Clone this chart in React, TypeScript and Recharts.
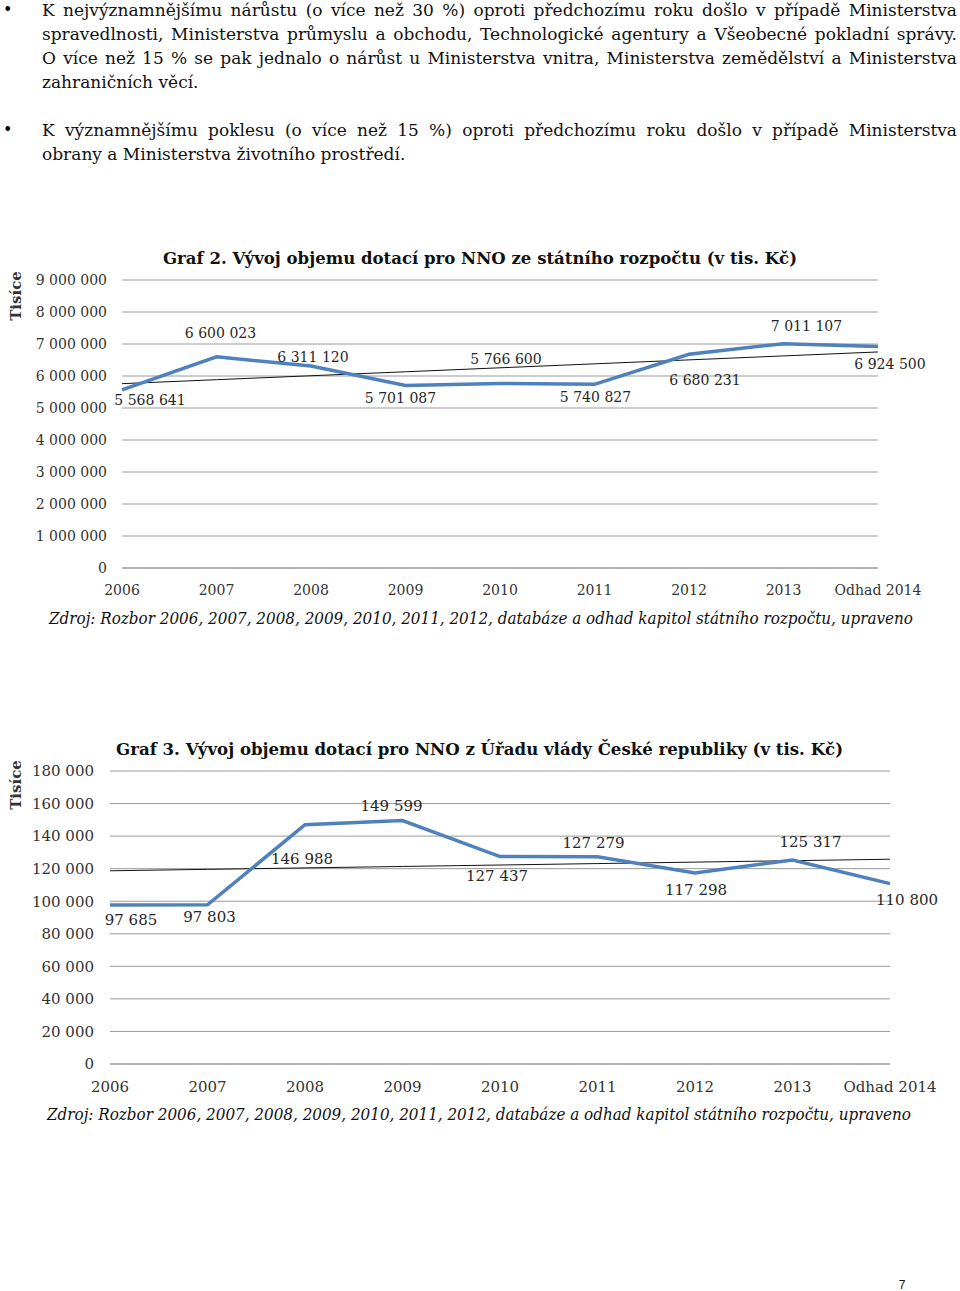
import React from 'react';
import { LineChart, Line, XAxis, YAxis, CartesianGrid, LabelList } from 'recharts';

const years = ['2006', '2007', '2008', '2009', '2010', '2011', '2012', '2013', 'Odhad 2014'];
const stateBudget = [5568641, 6600023, 6311120, 5701087, 5766600, 5740827, 6680231, 7011107, 6924500];
const govOffice = [97685, 97803, 146988, 149599, 127437, 127279, 117298, 125317, 110800];
const ticks2 = [0, 1000000, 2000000, 3000000, 4000000, 5000000, 6000000, 7000000, 8000000, 9000000];
const ticks3 = [0, 20000, 40000, 60000, 80000, 100000, 120000, 140000, 160000, 180000];
const labelOffsets2 = [[28, 10], [4, -24], [2, -9], [-5, 12], [6, -24], [1, 13], [16, 26], [23, -18], [12, 18]];
const labelOffsets3 = [[21, 15], [2, 12], [-3, 34], [-11, -14], [-3, 19], [-4, -14], [1, 17], [18, -18], [17, 16]];

const title2 = 'Graf 2. Vývoj objemu dotací pro NNO ze státního rozpočtu (v tis. Kč)';
const title3 = 'Graf 3. Vývoj objemu dotací pro NNO z Úřadu vlády České republiky (v tis. Kč)';
const caption = 'Zdroj: Rozbor 2006, 2007, 2008, 2009, 2010, 2011, 2012, databáze a odhad kapitol státního rozpočtu, upraveno';
const para1 = [
  'K nejvýznamnějšímu nárůstu (o více než 30 %) oproti předchozímu roku došlo v případě Ministerstva',
  'spravedlnosti, Ministerstva průmyslu a obchodu, Technologické agentury a Všeobecné pokladní správy.',
  'O více než 15 % se pak jednalo o nárůst u Ministerstva vnitra, Ministerstva zemědělství a Ministerstva',
  'zahraničních věcí.',
];
const para2 = [
  'K významnějšímu poklesu (o více než 15 %) oproti předchozímu roku došlo v případě Ministerstva',
  'obrany a Ministerstva životního prostředí.',
];

const fmt = (v: number) => String(Math.round(v)).replace(/\B(?=(\d{3})+(?!\d))/g, ' ');

function withTrend(values: number[]) {
  const n = values.length;
  const mx = (n - 1) / 2;
  const my = values.reduce((a, b) => a + b, 0) / n;
  let num = 0;
  let den = 0;
  values.forEach((v, i) => {
    num += (i - mx) * (v - my);
    den += (i - mx) * (i - mx);
  });
  const slope = num / den;
  return years.map((y, i) => ({ year: y, value: values[i], trend: my + slope * (i - mx) }));
}

const data2 = withTrend(stateBudget);
const data3 = withTrend(govOffice);

const FONT = '"DejaVu Serif", serif';
const BLUE = '#4f81bd';
const GRID = '#9a9a9a';

const makeLabel = (offsets: number[][], size: number) => (props: any) => {
  const { x, y, value, index } = props;
  const [dx, dy] = offsets[index] || [0, 0];
  return (
    <text x={x + dx} y={y + dy} textAnchor="middle" dominantBaseline="central" fontFamily={FONT} fontSize={size} fill="#262626">
      {fmt(value)}
    </text>
  );
};

function Chart({ data, ticks, max, offsets, top, left, width, height, margin, yWidth, yMargin, fontSize }: any) {
  return (
    <div style={{ position: 'absolute', top, left }}>
      <LineChart width={width} height={height} data={data} margin={margin}>
        <CartesianGrid horizontal vertical={false} stroke={GRID} strokeWidth={1} />
        <XAxis
          dataKey="year"
          axisLine={{ stroke: GRID }}
          tickLine={false}
          tickSize={0}
          tickMargin={17}
          height={40}
          interval={0}
          tick={{ fontFamily: FONT, fontSize, fill: '#333' }}
        />
        <YAxis
          domain={[0, max]}
          ticks={ticks}
          interval={0}
          axisLine={false}
          tickLine={false}
          tickSize={0}
          tickMargin={yMargin}
          width={yWidth}
          tickFormatter={fmt}
          tick={{ fontFamily: FONT, fontSize, fill: '#333' }}
        />
        <Line type="linear" dataKey="trend" stroke="#111" strokeWidth={1} dot={false} isAnimationActive={false} />
        <Line type="linear" dataKey="value" stroke={BLUE} strokeWidth={3.5} dot={false} isAnimationActive={false}>
          <LabelList dataKey="value" content={makeLabel(offsets, fontSize)} />
        </Line>
      </LineChart>
    </div>
  );
}

const lineStyle: React.CSSProperties = {
  position: 'absolute',
  left: 42,
  width: 915,
  height: 24,
  lineHeight: '24px',
  fontFamily: FONT,
  fontSize: 17,
  color: '#111',
  textAlign: 'justify',
  textAlignLast: 'justify' as any,
  whiteSpace: 'nowrap',
};

export default function App() {
  return (
    <div style={{ position: 'absolute', left: 0, top: 0, width: 960, height: 1291, background: '#fff', overflow: 'hidden' }}>
      {para1.map((t, i) => (
        <div key={'a' + i} style={{ ...lineStyle, top: -2 + i * 24, textAlignLast: (i === para1.length - 1 ? 'left' : 'justify') as any }}>{t}</div>
      ))}
      {para2.map((t, i) => (
        <div key={'b' + i} style={{ ...lineStyle, top: 118 + i * 24, textAlignLast: (i === para2.length - 1 ? 'left' : 'justify') as any }}>{t}</div>
      ))}
      <div style={{ position: 'absolute', left: 3, top: -2, lineHeight: '24px', fontSize: 16, fontFamily: FONT }}>•</div>
      <div style={{ position: 'absolute', left: 3, top: 118, lineHeight: '24px', fontSize: 16, fontFamily: FONT }}>•</div>

      <Chart
        data={data2}
        ticks={ticks2}
        max={9000000}
        offsets={labelOffsets2}
        top={250}
        left={0}
        width={960}
        height={370}
        margin={{ top: 30, right: 82, left: 12, bottom: 12 }}
        yWidth={110}
        yMargin={15}
        fontSize={14}
      />
      <Chart
        data={data3}
        ticks={ticks3}
        max={180000}
        offsets={labelOffsets3}
        top={740}
        left={0}
        width={960}
        height={375}
        margin={{ top: 31, right: 70, left: 10, bottom: 11 }}
        yWidth={100}
        yMargin={16}
        fontSize={15}
      />

      <svg width={960} height={1291} style={{ position: 'absolute', left: 0, top: 0, pointerEvents: 'none' }}>
        <text x={163} y={264} fontFamily={FONT} fontWeight="bold" fontSize={17} textLength={634} lengthAdjust="spacingAndGlyphs" fill="#111">{title2}</text>
        <text x={116} y={755} fontFamily={FONT} fontWeight="bold" fontSize={17} textLength={727} lengthAdjust="spacingAndGlyphs" fill="#111">{title3}</text>
        <text x={49} y={624} fontFamily={FONT} fontStyle="italic" fontSize={16} textLength={864} lengthAdjust="spacingAndGlyphs" fill="#111">{caption}</text>
        <text x={47} y={1120} fontFamily={FONT} fontStyle="italic" fontSize={16} textLength={864} lengthAdjust="spacingAndGlyphs" fill="#111">{caption}</text>
        <text transform="translate(21,296) rotate(-90)" textAnchor="middle" fontFamily={FONT} fontWeight="bold" fontSize={15} fill="#333">Tisíce</text>
        <text transform="translate(21,785) rotate(-90)" textAnchor="middle" fontFamily={FONT} fontWeight="bold" fontSize={15} fill="#333">Tisíce</text>
        <text x={902} y={1285} textAnchor="middle" dominantBaseline="central" fontFamily='"Liberation Sans", Arial, sans-serif' fontSize={12} fill="#111">7</text>
      </svg>
    </div>
  );
}
